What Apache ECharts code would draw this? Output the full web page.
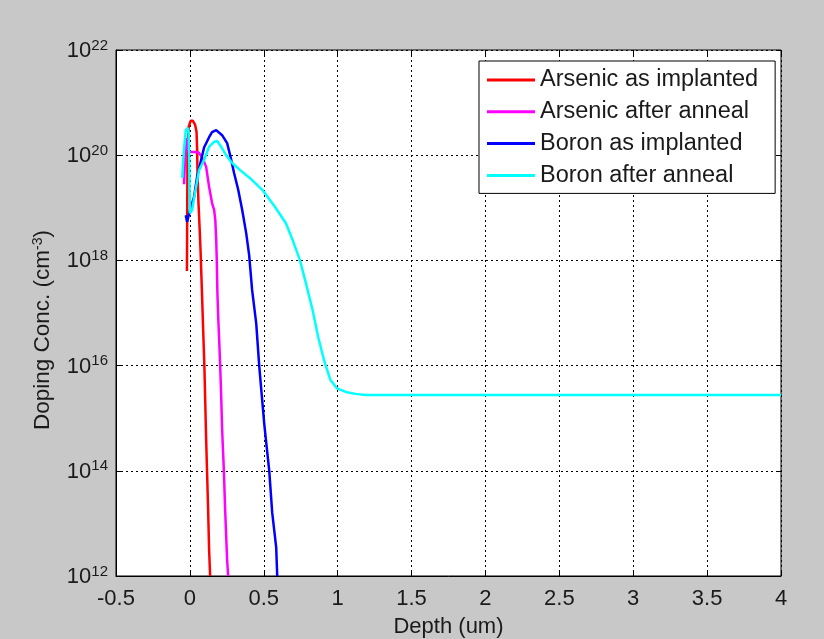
<!DOCTYPE html>
<html>
<head>
<meta charset="utf-8">
<script src="https://cdn.jsdelivr.net/npm/echarts@6/dist/echarts.min.js"></script>
<style>
html,body{margin:0;padding:0;background:#c8c8c8;}
#chart{width:824px;height:639px;}
</style>
</head>
<body>
<div id="chart"></div>
<script>
// ---- data (depth in um, concentration in cm^-3) ----
var seriesNames = ['Arsenic as implanted', 'Arsenic after anneal', 'Boron as implanted', 'Boron after anneal'];
var seriesColors = ['#ff0000', '#ff00ff', '#0000ff', '#00ffff'];

var asImplDepth = [-0.02, -0.016, -0.008, 0.005, 0.02, 0.035, 0.045, 0.049, 0.052, 0.058, 0.066, 0.072, 0.078, 0.085, 0.092, 0.098, 0.104, 0.110, 0.116, 0.123, 0.130, 0.137];
var asImplConc  = [6.3e17, 1.58e20, 3.5e20, 4.5e20, 4.5e20, 3.8e20, 2.8e20, 1.26e20, 4e19, 1.26e19, 4e18, 1.58e18, 5e17, 1.26e17, 3.16e16, 1e16, 2e15, 4e14, 1e14, 2e13, 3.16e12, 1e12];

var asAnnDepth = [-0.04, -0.035, -0.025, -0.018, -0.01, 0.0, 0.03, 0.06, 0.08, 0.095, 0.110, 0.130, 0.150, 0.164, 0.172, 0.178, 0.182, 0.186, 0.192, 0.198, 0.205, 0.212, 0.218, 0.224, 0.230, 0.238, 0.245, 0.252, 0.259];
var asAnnConc  = [2.8e19, 6.3e19, 1.4e20, 2.1e20, 1.26e20, 1.15e20, 1.15e20, 1.12e20, 9.3e19, 7.6e19, 6e19, 2.5e19, 1.23e19, 9.1e18, 5.9e18, 2.5e18, 1e18, 2.5e17, 7.9e16, 3.16e16, 1e16, 2.5e15, 6.3e14, 2.5e14, 1e14, 2e13, 6.3e12, 2e12, 1e12];

var bImplDepth = [-0.028, -0.019, 0.0, 0.028, 0.049, 0.076, 0.096, 0.130, 0.150, 0.178, 0.218, 0.252, 0.275, 0.299, 0.327, 0.354, 0.381, 0.401, 0.421, 0.449, 0.469, 0.486, 0.503, 0.520, 0.537, 0.557, 0.584, 0.591];
var bImplConc  = [7.2e18, 5.4e18, 8.9e18, 1.6e19, 3.9e19, 8.1e19, 1.4e20, 2.2e20, 2.75e20, 3e20, 2.4e20, 1.7e20, 9.3e19, 4.6e19, 2.2e19, 9.1e18, 3.3e18, 1.26e18, 2.75e17, 6.3e16, 1e16, 2.8e15, 7.9e14, 2.8e14, 1e14, 1.6e13, 3.5e12, 1e12];

var bAnnDepth = [-0.051, -0.048, -0.04, -0.028, -0.014, -0.008, -0.004, 0.0, 0.015, 0.042, 0.062, 0.096, 0.130, 0.164, 0.185, 0.211, 0.245, 0.286, 0.34, 0.405, 0.49, 0.575, 0.65, 0.695, 0.745, 0.785, 0.83, 0.868, 0.91, 0.95, 0.995, 1.055, 1.12, 1.19, 1.5, 2.0, 2.5, 3.0, 3.5, 4.0];
var bAnnConc  = [3.7e19, 6e19, 1.26e20, 3e20, 3.3e20, 2.5e20, 6.3e19, 7.9e18, 9.1e18, 2.5e19, 5.2e19, 8.1e19, 1.45e20, 1.8e20, 1.86e20, 1.45e20, 1e20, 7.1e19, 5.2e19, 3.7e19, 2.2e19, 1.05e19, 5.1e18, 2.45e18, 1e18, 3.7e17, 1.15e17, 3.5e16, 1.2e16, 5.4e15, 3.7e15, 3.16e15, 2.9e15, 2.75e15, 2.75e15, 2.75e15, 2.75e15, 2.75e15, 2.75e15, 2.75e15];

var xMin = -0.5, xMax = 4, xStep = 0.5;
var yMin = 1e12, yMax = 1e22, yStepDecades = 2;
var xTitle = 'Depth (um)';
var yTitleMain = 'Doping Conc. (cm';
var yTitleSup = '-3';

// ---- build ----
function pairs(xs, ys) { return xs.map(function (x, i) { return [x, ys[i]]; }); }
var allDepth = [asImplDepth, asAnnDepth, bImplDepth, bAnnDepth];
var allConc = [asImplConc, asAnnConc, bImplConc, bAnnConc];

var FONT = "'Liberation Sans', Arial, Helvetica, sans-serif";
var TXT = '#1a1a1a';

var chart = echarts.init(document.getElementById('chart'), null, { renderer: 'canvas' });
var option = {
  animation: false,
  backgroundColor: '#c8c8c8',
  textStyle: { fontFamily: FONT },
  grid: {
    left: 116, right: 43, top: 50, bottom: 63,
    outerBoundsMode: 'none', containLabel: false,
    show: true, backgroundColor: '#ffffff', borderColor: '#000', borderWidth: 1
  },
  legend: {
    orient: 'vertical',
    left: 479, top: 61,
    padding: [7, 17, 6, 8],
    itemGap: 7.8,
    itemWidth: 48, itemHeight: 3,
    icon: 'rect',
    backgroundColor: '#ffffff', borderColor: '#000', borderWidth: 1,
    textStyle: { fontSize: 23.5, color: TXT, fontFamily: FONT, lineHeight: 23 },
    data: seriesNames
  },
  xAxis: [{
    type: 'value', min: xMin, max: xMax, interval: xStep,
    name: xTitle, nameLocation: 'middle', nameGap: 40,
    nameTextStyle: { fontSize: 22, color: TXT, fontFamily: FONT },
    axisLine: { show: true, onZero: false, lineStyle: { color: '#000', width: 1 } },
    axisTick: { show: true, inside: true, length: 5, lineStyle: { color: '#000' } },
    axisLabel: { fontSize: 22, color: TXT, margin: 12, fontFamily: FONT },
    splitLine: { show: true, lineStyle: { color: '#000', type: [2, 3], width: 1 } }
  }, {
    type: 'value', min: xMin, max: xMax, interval: xStep, position: 'top',
    axisLine: { show: false, onZero: false }, axisLabel: { show: false }, splitLine: { show: false },
    axisTick: { show: true, inside: true, length: 5, lineStyle: { color: '#000' } }
  }],
  yAxis: [{
    type: 'log', logBase: 10, min: yMin, max: yMax, interval: yStepDecades,
    name: yTitleMain + '{s|' + yTitleSup + '})', nameLocation: 'middle', nameGap: 62,
    nameTextStyle: {
      fontSize: 22.5, color: TXT, fontFamily: FONT, padding: [0, 34, 0, 0],
      rich: { s: { fontSize: 14, verticalAlign: 'top', color: TXT, fontFamily: FONT } }
    },
    axisLine: { show: true, onZero: false, lineStyle: { color: '#000', width: 1 } },
    axisTick: { show: true, inside: true, length: 5, lineStyle: { color: '#000' } },
    axisLabel: {
      margin: 8, color: TXT,
      formatter: function (v) {
        var e = Math.round(Math.log10(v));
        return '{a|10}{b|' + e + '}';
      },
      rich: {
        a: { fontSize: 22, fontFamily: FONT, color: TXT, lineHeight: 24, verticalAlign: 'bottom' },
        b: { fontSize: 15, fontFamily: FONT, color: TXT, lineHeight: 10, verticalAlign: 'top' }
      }
    },
    splitLine: { show: true, lineStyle: { color: '#000', type: [2, 3], width: 1 } }
  }, {
    type: 'log', logBase: 10, min: yMin, max: yMax, interval: yStepDecades, position: 'right',
    axisLine: { show: false, onZero: false }, axisLabel: { show: false }, splitLine: { show: false },
    axisTick: { show: true, inside: true, length: 5, lineStyle: { color: '#000' } }
  }],
  series: seriesNames.map(function (n, i) {
    return {
      name: n, type: 'line', xAxisIndex: 0, yAxisIndex: 0,
      symbol: 'none', smooth: false,
      lineStyle: { color: seriesColors[i], width: 2.5 },
      itemStyle: { color: seriesColors[i] },
      data: pairs(allDepth[i], allConc[i])
    };
  })
};
chart.setOption(option);
</script>
</body>
</html>
